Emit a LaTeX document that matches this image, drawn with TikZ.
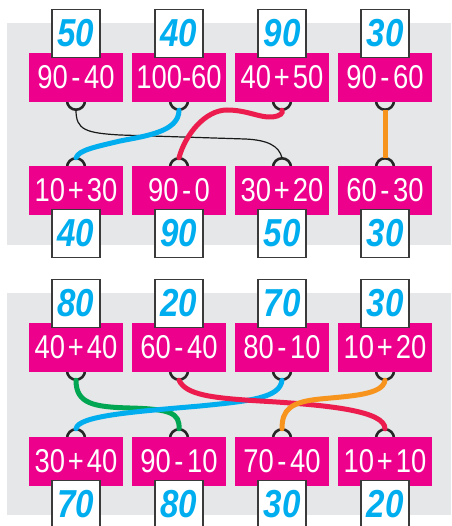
\documentclass[tikz,border=0pt]{standalone}
\usepackage{fontspec}
\newfontfamily\eqfont{Liberation Sans}[FakeStretch=0.83]
\newfontfamily\ansfont{Liberation Sans}[FakeStretch=0.85]
\definecolor{panelgray}{HTML}{E6E7E8}
\definecolor{boxpink}{HTML}{EC008C}
\definecolor{anscyan}{HTML}{00AEEF}
\definecolor{linered}{HTML}{ED1C4E}
\definecolor{linegreen}{HTML}{00A651}
\definecolor{lineorange}{HTML}{F7941D}
\definecolor{framegray}{HTML}{3A3A3A}
\newcommand\mn{\kern3.5pt-\kern3.5pt}
\newcommand\pl{\kern3pt+\kern3pt}
\pgfdeclarelayer{back}
\pgfdeclarelayer{mid}
\pgfsetlayers{back,mid,main}
\tikzset{
  eqbox/.style={fill=boxpink, minimum width=94pt, minimum height=49pt, inner sep=0pt,
    text=white, font=\eqfont\fontsize{33}{33}\selectfont},
  ansbox/.style={fill=white, draw=framegray, line width=1.3pt, minimum width=48pt, minimum height=48pt,
    inner sep=0pt, text=anscyan, font=\ansfont\bfseries\itshape\fontsize{39}{39}\selectfont},
  ring/.style={draw=black!85, line width=2.6pt},
  thinwire/.style={draw=black!90, line width=1.2pt},
  wire/.style={line width=5pt, line cap=round}
}
\begin{document}
\begin{tikzpicture}[x=1pt,y=-1pt]
\useasboundingbox (0,0) rectangle (451,526);
\begin{pgfonlayer}{back}
  \fill[panelgray] (7,23) rectangle (451,245);
  \fill[panelgray] (7,293) rectangle (451,515);
\end{pgfonlayer}

% ---------- top panel ----------
\node[eqbox] (t1) at (76,77.5) {90\mn40};
\node[eqbox] (t2) at (179,77.5) {100-60};
\node[eqbox] (t3) at (282,77.5) {40\pl50};
\node[eqbox] (t4) at (385,77.5) {90\mn60};
\node[ansbox] (ta1) at (76,33.5) {50};
\node[ansbox] (ta2) at (179,33.5) {40};
\node[ansbox] (ta3) at (282,33.5) {90};
\node[ansbox] (ta4) at (385,33.5) {30};

\node[eqbox] (b1) at (76,190.5) {10\pl30};
\node[eqbox] (b2) at (179,190.5) {90\mn0};
\node[eqbox] (b3) at (282,190.5) {30\pl20};
\node[eqbox] (b4) at (385,190.5) {60\mn30};
\node[ansbox] (ba1) at (76,233.5) {40};
\node[ansbox] (ba2) at (179,233.5) {90};
\node[ansbox] (ba3) at (282,233.5) {50};
\node[ansbox] (ba4) at (385,233.5) {30};

% ---------- bottom panel ----------
\node[eqbox] (u1) at (76,347.5) {40\pl40};
\node[eqbox] (u2) at (179,347.5) {60\mn40};
\node[eqbox] (u3) at (282,347.5) {80\mn10};
\node[eqbox] (u4) at (385,347.5) {10\pl20};
\node[ansbox] (ua1) at (76,303.5) {80};
\node[ansbox] (ua2) at (179,303.5) {20};
\node[ansbox] (ua3) at (282,303.5) {70};
\node[ansbox] (ua4) at (385,303.5) {30};

\node[eqbox] (v1) at (76,461.5) {30\pl40};
\node[eqbox] (v2) at (179,461.5) {90\mn10};
\node[eqbox] (v3) at (282,461.5) {70\mn40};
\node[eqbox] (v4) at (385,461.5) {10\pl10};
\node[ansbox] (va1) at (76,504.5) {70};
\node[ansbox] (va2) at (179,504.5) {80};
\node[ansbox] (va3) at (282,504.5) {30};
\node[ansbox] (va4) at (385,504.5) {20};

\begin{pgfonlayer}{mid}
  % rings and hook points
  \foreach \n in {t1,t2,t3,t4,u1,u2,u3,u4}{
    \draw[ring] ([yshift=1.5pt]\n.south) circle (9pt);
    \coordinate (\n h) at ([yshift=-8pt]\n.south);
  }
  \foreach \n in {b1,b2,b3,b4,v1,v2,v3,v4}{
    \draw[ring] ([yshift=-1.5pt]\n.north) circle (9pt);
    \coordinate (\n h) at ([yshift=8pt]\n.north);
  }
  % top panel connectors
  \draw[thinwire] (t1h) .. controls (76,130) and (86,133) .. (120,135)
     -- (245,139) .. controls (268,140) and (279,146) .. (b3h);
  \draw[wire, anscyan] (t2h) .. controls (179,132) and (145,136) .. (120,141)
     .. controls (95,147) and (79,150) .. (b1h);
  \draw[wire, linered] (b2h) .. controls (185,135) and (205,110) .. (227,110)
     .. controls (247,110) and (260,118) .. (272,117)
     .. controls (281,116) and (283,113) .. (t3h);
  \draw[wire, lineorange, line cap=butt] (t4h) -- (b4h);
  % bottom panel connectors
  \draw[wire, linegreen] (u1h) .. controls (76,404) and (94,407) .. (130,408)
     .. controls (170,409) and (180,413) .. (v2h);
  \draw[wire, anscyan] (u3h) .. controls (280,398) and (250,401) .. (200,406)
     .. controls (130,412) and (78,416) .. (v1h);
  \draw[wire, linered] (u2h) .. controls (186,395) and (212,398) .. (260,401)
     .. controls (330,405) and (385,411) .. (v4h);
  \draw[wire, lineorange] (u4h) .. controls (383,395) and (350,396) .. (320,399)
     .. controls (290,402) and (282,410) .. (v3h);
\end{pgfonlayer}
\end{tikzpicture}
\end{document}
